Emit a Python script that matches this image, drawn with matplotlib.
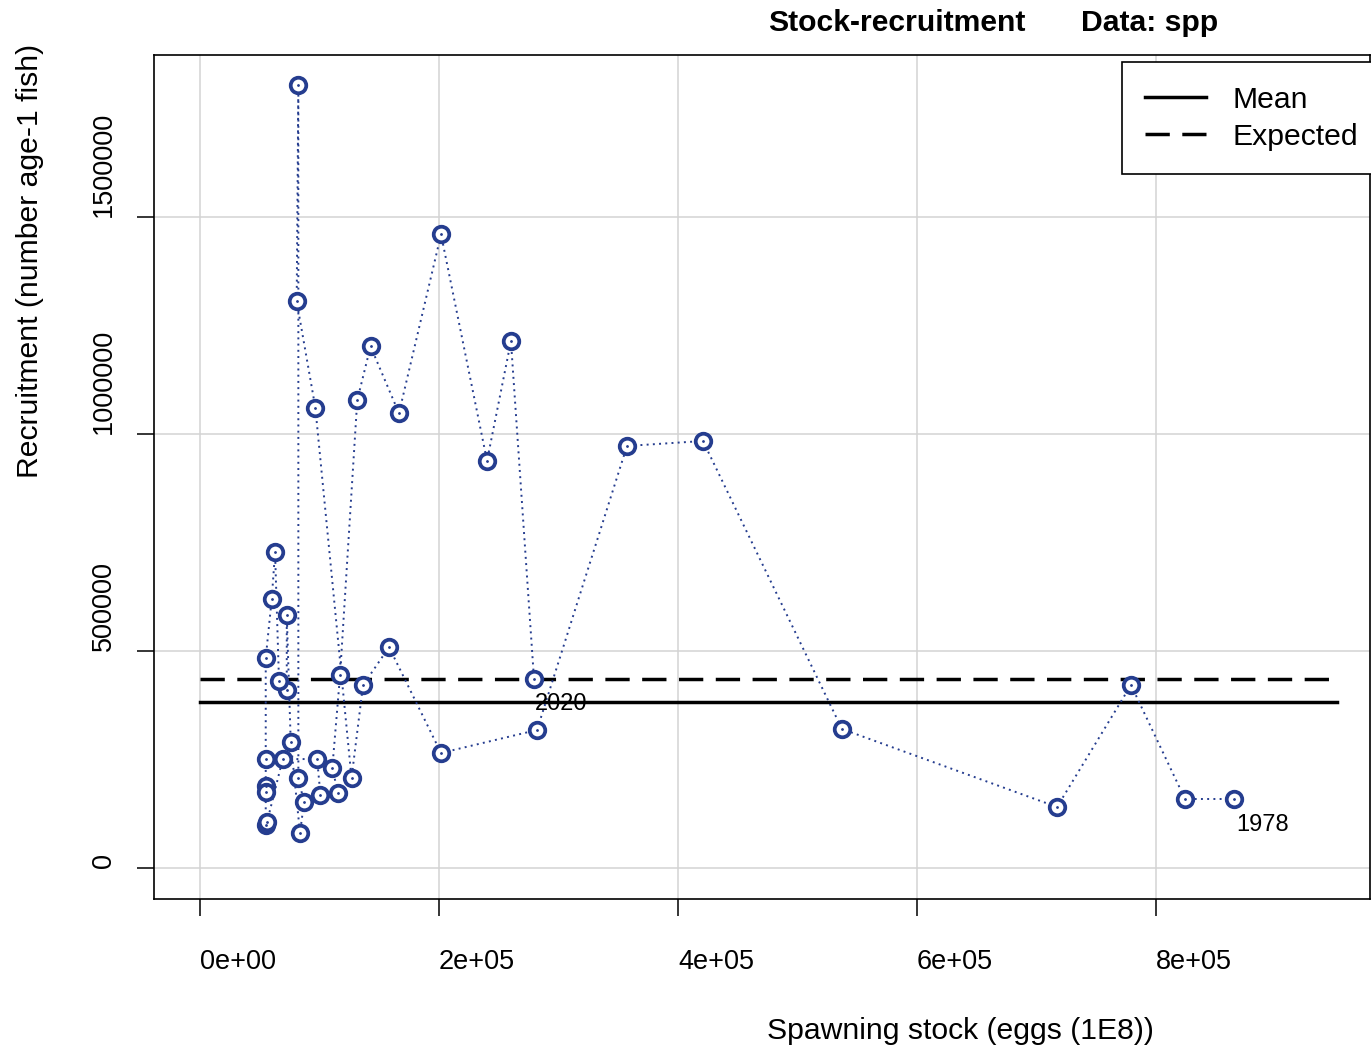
import numpy as np
import matplotlib.pyplot as plt

plt.rcParams['font.family'] = ['Liberation Sans', 'DejaVu Sans']

# spawning stock (eggs, 1E8) and recruitment by year, 1978-2020
years = list(range(1978, 2021))
stock = [865300, 824300, 779100, 717200, 537200, 420900, 357300, 282000, 201700, 158200,
         136400, 126800, 96500, 80900, 82300, 82300, 87000, 83700, 75900, 72600,
         72600, 66100, 62800, 60000, 55000, 55000, 55000, 55000, 55000, 56200,
         69200, 98000, 100800, 115500, 110700, 117200, 131600, 142700, 166500, 201700,
         240200, 260200, 279500]
recruits = [159000, 159000, 421700, 140600, 320300, 983900, 972400, 318000, 265000, 509000,
            421000, 207000, 1061000, 1306000, 1803000, 208500, 151000, 80600, 291000, 584000,
            409000, 431000, 728000, 619000, 484000, 252000, 190000, 176000, 99000, 107000,
            251000, 251000, 168000, 173000, 230000, 444000, 1078000, 1202000, 1048000, 1460000,
            938000, 1214000, 435500]
mean_r = 382500
expected_r = 435500

xticks = [0, 200000, 400000, 600000, 800000]
xticklabels = ['0e+00', '2e+05', '4e+05', '6e+05', '8e+05']
yticks = [0, 500000, 1000000, 1500000]
yticklabels = ['0', '500000', '1000000', '1500000']

col = '#253d8f'
W, H = 1371, 1049
fig = plt.figure(figsize=(W/100, H/100), dpi=100)
ax = fig.add_axes([154/W, 1-899/H, (1370-154)/W, (899-55)/H])

ax.set_xlim(-38500, 979100)
ax.set_ylim(-71430, 1873270)
for x in xticks:
    ax.axvline(x, color='#d3d3d3', lw=1.1, zorder=0)
for y in yticks:
    ax.axhline(y, color='#d3d3d3', lw=1.1, zorder=0)

xend = max(stock)*1.1
ax.plot([0, xend], [mean_r, mean_r], color='black', lw=2.5, label='Mean', zorder=2)
ax.plot([0, xend], [expected_r, expected_r], color='black', lw=2.5, dashes=(7, 3.6),
        label='Expected', zorder=2)

ax.plot(stock, recruits, color=col, lw=1.4, linestyle=(0, (1, 2.2)), zorder=3)
ax.plot(stock, recruits, 'o', ms=11.2, mfc='white', mec=col, mew=2.7, zorder=4)
ax.plot(stock, recruits, '.', ms=2, color=col, zorder=5)

ax.annotate(str(years[0]), (stock[0], recruits[0]), xytext=(2, -26),
            textcoords='offset pixels', ha='left', va='center', fontsize=17)
ax.annotate(str(years[-1]), (stock[-1], recruits[-1]), xytext=(1, -25),
            textcoords='offset pixels', ha='left', va='center', fontsize=17)

ax.set_xticks(xticks)
ax.set_xticklabels(xticklabels, ha='left', fontsize=19.5)
ax.set_yticks(yticks)
ax.set_yticklabels(yticklabels, rotation=90, va='bottom', fontsize=19.5)
ax.tick_params(axis='both', direction='out', length=12.5, width=1.1)
ax.tick_params(axis='x', pad=23.5)
ax.tick_params(axis='y', pad=14)
for s in ax.spines.values():
    s.set_linewidth(1.2)

# legend sits partly past the right edge, as in the original
leg = ax.legend(loc='upper right', bbox_to_anchor=(1+12/1216, 1-7/844), borderaxespad=0,
                fontsize=21.7, fancybox=False, edgecolor='black', framealpha=1,
                handlelength=2.0, handletextpad=0.9, labelspacing=0.3, borderpad=0.78)
leg.get_frame().set_linewidth(1.2)

fig.text(768/W, 1-23/H, 'Stock-recruitment', fontsize=21.7, fontweight='bold',
         ha='left', va='center')
fig.text(1081/W, 1-23/H, 'Data: spp', fontsize=21.7, fontweight='bold',
         ha='left', va='center')
fig.text(960/W, 1-1031/H, 'Spawning stock (eggs (1E8))', fontsize=21.7,
         ha='center', va='center')
fig.text(30/W, 1-261/H, 'Recruitment (number age-1 fish)', fontsize=21.7,
         rotation=90, ha='center', va='center')

plt.savefig('out.png', dpi=100)
